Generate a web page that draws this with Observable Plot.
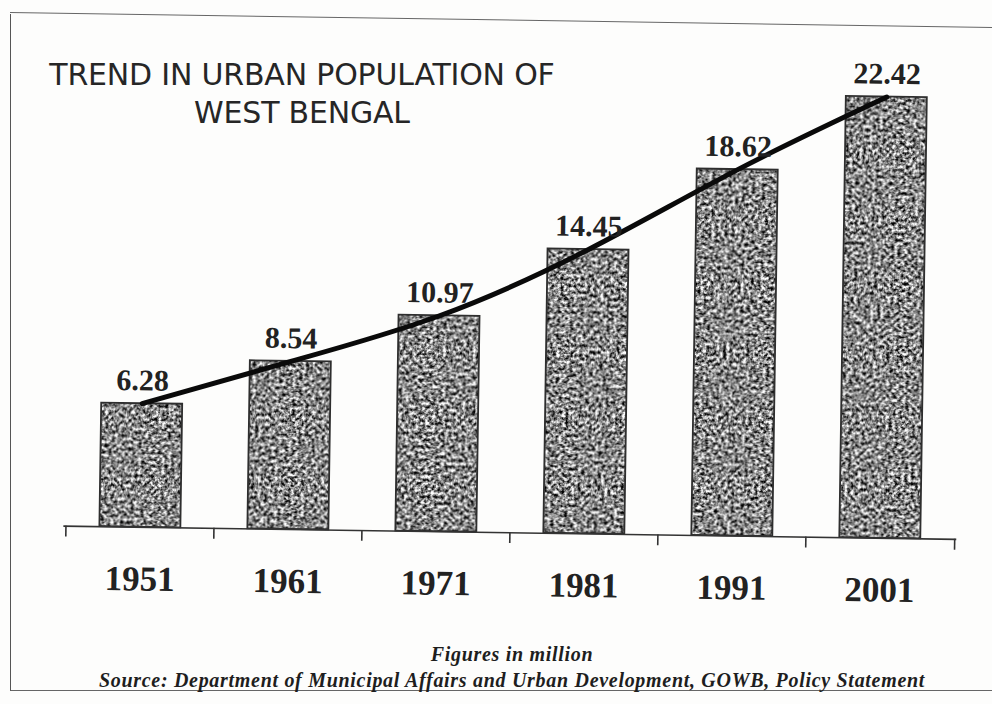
<!DOCTYPE html>
<html>
<head>
<meta charset="utf-8">
<script src="https://cdn.jsdelivr.net/npm/d3@7"></script>
<script src="https://cdn.jsdelivr.net/npm/@observablehq/plot@0.6"></script>
<style>
  html, body { margin: 0; padding: 0; background: #fdfdfc; }
  #wrap { position: relative; width: 992px; height: 704px; overflow: hidden; background: #fdfdfc; }
  #chart { position: absolute; left: 0; top: 0; }
  #chart svg { transform: rotate(0.85deg); transform-origin: 496px 352px; background: transparent; }
  .frame { position: absolute; left: 10px; top: 14px; width: 1000px; height: 676px;
           border-left: 1.5px solid #555; border-bottom: 1.5px solid #666; }
  .topline { position: absolute; left: 10px; top: 12px; width: 990px; height: 0;
             border-top: 1.5px solid #666; transform-origin: 0 0; transform: rotate(0.87deg); }
  .title { position: absolute; width: 600px; text-align: center; color: #262626;
           font-family: "DejaVu Sans", sans-serif; font-stretch: normal;
           font-size: 30px; line-height: 38px; left: 2px; top: 56px; letter-spacing: -0.2px; }
  .cap { position: absolute; left: 0; width: 1024px; text-align: center; color: #1e1e1e;
         font-family: "Liberation Serif", "Times New Roman", serif; font-weight: bold; font-style: italic;
         font-size: 20px; letter-spacing: 0.7px; }
</style>
</head>
<body>
<svg width="0" height="0" style="position:absolute">
  <defs>
    <filter id="grain" x="0" y="0" width="100%" height="100%" color-interpolation-filters="sRGB">
      <feTurbulence type="fractalNoise" baseFrequency="0.3" numOctaves="4" seed="11" result="n"/>
      <feColorMatrix in="n" type="matrix" result="g"
        values="2.1 0 0 0 -0.52  2.1 0 0 0 -0.52  2.1 0 0 0 -0.52  0 0 0 0 1"/>
      <feGaussianBlur in="g" stdDeviation="0.5"/>
    </filter>
    <pattern id="grainPat" patternUnits="userSpaceOnUse" x="0" y="0" width="992" height="704">
      <rect x="0" y="0" width="992" height="704" filter="url(#grain)"/>
    </pattern>
  </defs>
</svg>
<div id="wrap">
  <div class="frame"></div>
  <div class="topline"></div>
  <div id="chart"></div>
  <div class="title">TREND IN URBAN POPULATION OF<br>WEST BENGAL</div>
  <div class="cap" style="top:643px;">Figures in million</div>
  <div class="cap" style="top:669px;">Source: Department of Municipal Affairs and Urban Development, GOWB, Policy Statement</div>
</div>
<script>
const years = ["1951", "1961", "1971", "1981", "1991", "2001"];
const values = [6.28, 8.54, 10.97, 14.45, 18.62, 22.42];
const valueLabels = ["6.28", "8.54", "10.97", "14.45", "18.62", "22.42"];

const data = years.map((year, i) => ({year, value: values[i], label: valueLabels[i]}));
const mL = 66, mR = 33;
const half = (992 - mL - mR) / 6 / 2;

const plot = Plot.plot({
  width: 992,
  height: 704,
  marginLeft: mL,
  marginRight: mR,
  marginTop: 40,
  marginBottom: 172,
  style: {background: "transparent", overflow: "visible"},
  x: {type: "band", domain: years, paddingInner: 0.45, paddingOuter: 0.225, axis: null},
  y: {domain: [0, 25], axis: null},
  marks: [
    Plot.barY(data, {x: "year", y: "value", fill: "url(#grainPat)"}),
    Plot.barY(data, {x: "year", y: "value", fill: "none", stroke: "#2e2e2e", strokeWidth: 1.8}),
    Plot.ruleY([0], {stroke: "#333", strokeWidth: 1.6}),
    Plot.ruleX(years, {x: d => d, y1: 0, y2: -0.55, dx: -half, stroke: "#333", strokeWidth: 1.6}),
    Plot.ruleX([years[years.length - 1]], {x: d => d, y1: 0, y2: -0.55, dx: half, stroke: "#333", strokeWidth: 1.6}),
    Plot.line(data, {x: "year", y: "value", curve: "natural", stroke: "#0a0a0a", strokeWidth: 5, strokeLinecap: "round"}),
    Plot.text(data, {x: "year", y: "value", text: "label", dy: -23, fontSize: 30, fontWeight: "bold",
      fontFamily: "Liberation Serif, Times New Roman, serif", fill: "#222"}),
    Plot.text(data, {x: "year", y: 0, text: "year", dy: 52, fontSize: 35, fontWeight: "bold",
      fontFamily: "Liberation Serif, Times New Roman, serif", fill: "#222"})
  ]
});
document.getElementById("chart").appendChild(plot);
</script>
</body>
</html>
